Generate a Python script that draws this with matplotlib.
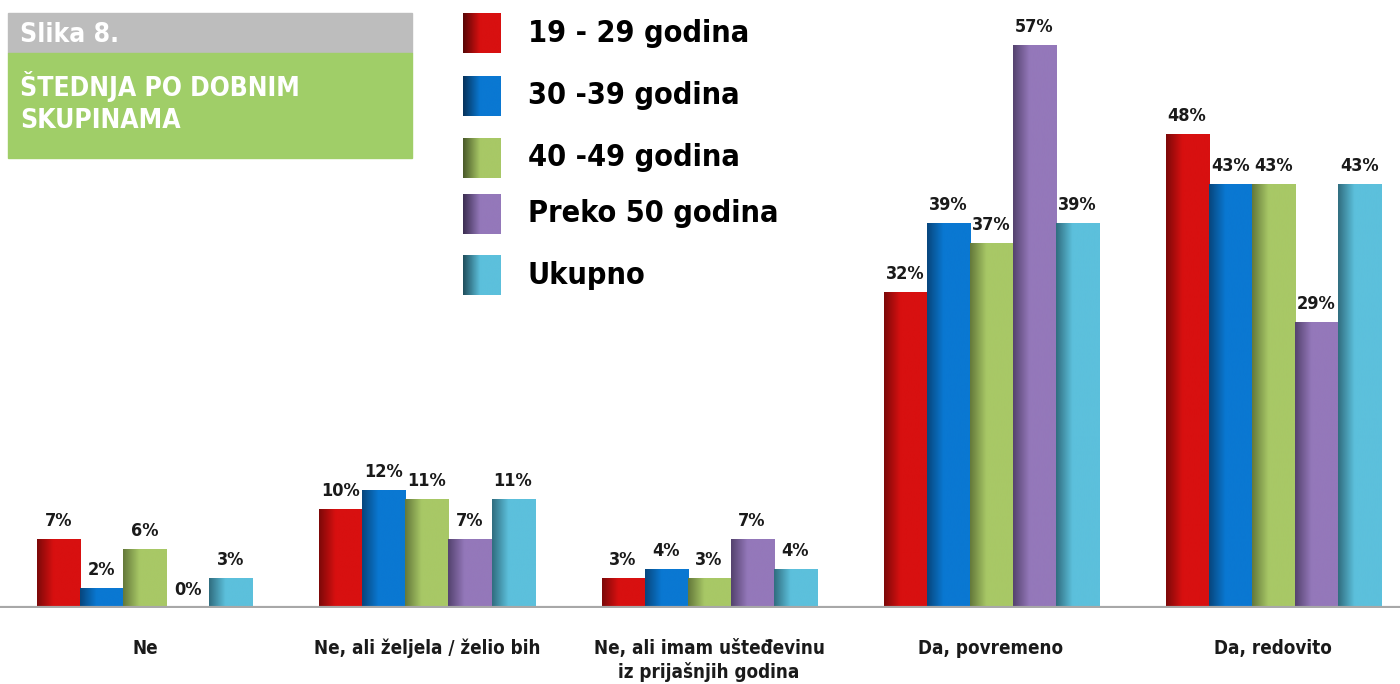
import matplotlib
matplotlib.use("Agg")
from matplotlib import pyplot as plt
from matplotlib.colors import LinearSegmentedColormap
from matplotlib.patches import Rectangle
import numpy as np

plt.rcParams['font.family'] = ['DejaVu Sans']
plt.rcParams['font.stretch'] = 'condensed'

# data
categories = ["Ne", "Ne, ali željela / želio bih", "Ne, ali imam ušteđevinu\niz prijašnjih godina",
              "Da, povremeno", "Da, redovito"]
series_names = ["19 - 29 godina", "30 -39 godina", "40 -49 godina", "Preko 50 godina", "Ukupno"]
age_19_29 = [7, 10, 3, 32, 48]
age_30_39 = [2, 12, 4, 39, 43]
age_40_49 = [6, 11, 3, 37, 43]
age_50 = [0, 7, 7, 57, 29]
total = [3, 11, 4, 39, 43]
values = [age_19_29, age_30_39, age_40_49, age_50, total]
colors = ["#d81010", "#0a78d2", "#a8c866", "#9478ba", "#5cc0dc"]
darks = ["#5a0606", "#06335c", "#4a5a2a", "#3c2e52", "#204e5c"]

fig = plt.figure(figsize=(14, 6.84), dpi=100)
ax = fig.add_axes([0, 0.111, 1, 0.889])

x = np.arange(len(categories))
width = 0.1525
grad = np.linspace(0, 1, 64).reshape(1, -1)

for i, (vals, c, d) in enumerate(zip(values, colors, darks)):
    cmap = LinearSegmentedColormap.from_list("g%d" % i, [(0, d), (0.3, c), (0.8, c), (1, d)])
    bars = ax.bar(x + (i - 2) * width, vals, width, color=c, linewidth=0)
    for b, v in zip(bars, vals):
        bx, by = b.get_x(), b.get_y()
        bw, bh = b.get_width(), b.get_height()
        if bh > 0:
            im = ax.imshow(grad, cmap=cmap, aspect="auto", extent=[bx, bx + bw, by, by + bh],
                           zorder=2, interpolation="bicubic", vmin=-0.15, vmax=1.6)
            im.set_clip_path(Rectangle((bx, by), bw, bh, transform=ax.transData))
            b.set_visible(False)
        ax.annotate("%d%%" % v, (bx + bw / 2, by + bh), xytext=(0, 13), textcoords="offset points",
                    ha="center", va="center", fontsize=13, fontweight="bold", color="#1a1a1a")

ax.set_xlim(-0.514, 4.45)
ax.set_ylim(0, 61.6)
ax.axhline(0, color="#a8a8a8", linewidth=3, zorder=3)
for s in ax.spines.values():
    s.set_visible(False)
ax.set_yticks([])
ax.set_xticks(x)
ax.set_xticklabels(categories, fontsize=13.5, fontweight="bold", color="#1a1a1a", linespacing=1.25, va="top")
ax.tick_params(axis="x", length=0, pad=22)

# title box
fig.patches.append(Rectangle((8 / 1400, 1 - 53 / 684), 404 / 1400, 40 / 684, transform=fig.transFigure,
                             color="#bdbdbd", zorder=0))
fig.patches.append(Rectangle((8 / 1400, 1 - 158 / 684), 404 / 1400, 105 / 684, transform=fig.transFigure,
                             color="#a0ce68", zorder=0))
fig.text(20 / 1400, 1 - 35 / 684, "Slika 8.", color="white", fontsize=19, fontweight="bold", va="center")
fig.text(20 / 1400, 1 - 103 / 684, "ŠTEDNJA PO DOBNIM\nSKUPINAMA", color="white", fontsize=19,
         fontweight="bold", va="center", linespacing=1.3)

# legend
rows = [33, 96, 158, 214, 275]
for name, c, d, y in zip(series_names, colors, darks, rows):
    cmap = LinearSegmentedColormap.from_list("l", [(0, d), (0.45, c), (1, c)])
    lax = fig.add_axes([463 / 1400, 1 - (y + 20) / 684, 38 / 1400, 40 / 684])
    lax.imshow(grad, cmap=cmap, aspect="auto", interpolation="bicubic")
    lax.axis("off")
    fig.text(528 / 1400, 1 - y / 684, name, fontsize=22, fontweight="bold", color="black", va="center")

fig.savefig("out.png", dpi=100)
